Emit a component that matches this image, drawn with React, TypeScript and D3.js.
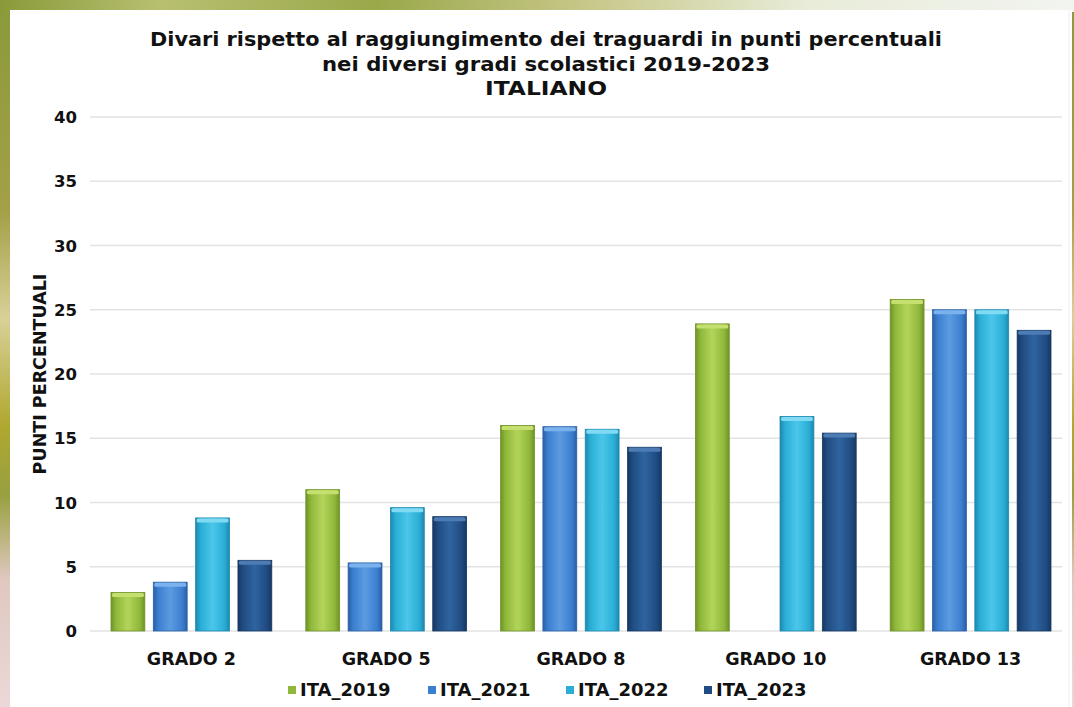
import React from "react";
import * as d3 from "d3";

const categories = ["GRADO 2", "GRADO 5", "GRADO 8", "GRADO 10", "GRADO 13"];
const seriesNames = ["ITA_2019", "ITA_2021", "ITA_2022", "ITA_2023"];
const ita2019 = [3.0, 11.0, 16.0, 23.9, 25.8];
const ita2021 = [3.8, 5.3, 15.9, null, 25.0];
const ita2022 = [8.8, 9.6, 15.7, 16.7, 25.0];
const ita2023 = [5.5, 8.9, 14.3, 15.4, 23.4];
const yTicks = [0, 5, 10, 15, 20, 25, 30, 35, 40];
const titleLines = [
  "Divari rispetto al raggiungimento dei traguardi in punti percentuali",
  "nei diversi gradi scolastici 2019-2023",
  "ITALIANO",
];

const seriesValues = [ita2019, ita2021, ita2022, ita2023];
const palette = [
  { base: "#8fb83a", light: "#b3d45a", dark: "#6f9228", cap: "#c6e070" },
  { base: "#3c7fd0", light: "#5b9be0", dark: "#2a5fa6", cap: "#7bb2ee" },
  { base: "#2aaed6", light: "#4cc6ea", dark: "#1d88ae", cap: "#7fdaf3" },
  { base: "#204c82", light: "#2f64a0", dark: "#163863", cap: "#4d7cb5" },
];

const W = 1074;
const H = 707;
const plotLeft = 94;
const plotRight = 1068;
const plotTop = 117;
const plotBottom = 631;

export default function App() {
  const x0 = d3.scaleBand<string>().domain(categories).range([plotLeft, plotRight]).paddingInner(0).paddingOuter(0);
  const x1 = d3
    .scaleBand<string>()
    .domain(seriesNames)
    .range([17, x0.bandwidth() - 17])
    .paddingInner(0.2)
    .paddingOuter(0);
  const y = d3.scaleLinear().domain([0, 40]).range([plotBottom, plotTop]);
  const font = "'DejaVu Sans', Verdana, sans-serif";
  const legendX = [288, 428, 566, 704];
  const titleWidths = [792, 448, 122];

  return (
    <svg width={W} height={H} style={{ position: "absolute", left: 0, top: 0, display: "block" }}>
      <defs>
        <linearGradient id="bgTop" x1="0" x2="1" y1="0" y2="0">
          <stop offset="0" stopColor="#8a9a3a" />
          <stop offset="0.15" stopColor="#b8c070" />
          <stop offset="0.35" stopColor="#9aa84a" />
          <stop offset="0.55" stopColor="#c8c88a" />
          <stop offset="0.75" stopColor="#e8ecd8" />
          <stop offset="1" stopColor="#f2f4f0" />
        </linearGradient>
        <linearGradient id="bgLeft" x1="0" x2="0" y1="0" y2="1">
          <stop offset="0" stopColor="#8a9a3a" />
          <stop offset="0.3" stopColor="#a4a048" />
          <stop offset="0.45" stopColor="#d8d098" />
          <stop offset="0.6" stopColor="#b0a830" />
          <stop offset="0.7" stopColor="#98a040" />
          <stop offset="0.82" stopColor="#e0c8c0" />
          <stop offset="1" stopColor="#ecd8d8" />
        </linearGradient>
        {palette.map((p, i) => (
          <linearGradient key={i} id={`bar${i}`} x1="0" x2="1" y1="0" y2="0">
            <stop offset="0" stopColor={p.dark} />
            <stop offset="0.15" stopColor={p.base} />
            <stop offset="0.5" stopColor={p.light} />
            <stop offset="0.85" stopColor={p.base} />
            <stop offset="1" stopColor={p.dark} />
          </linearGradient>
        ))}
      </defs>
      <rect x={0} y={0} width={W} height={H} fill="url(#bgLeft)" />
      <rect x={0} y={0} width={W} height={12} fill="url(#bgTop)" />
      <rect x={10} y={10} width={W - 12} height={H - 10} fill="#ffffff" />
      <line x1={1069} x2={1069} y1={10} y2={H} stroke="#eeeeee" />

      {titleLines.map((t, i) => (
        <text
          key={i}
          x={546}
          y={46 + i * 24.5}
          textAnchor="middle"
          fontFamily={font}
          fontWeight="bold"
          fontSize={20}
          fill="#111"
          textLength={titleWidths[i]}
          lengthAdjust="spacingAndGlyphs"
        >
          {t}
        </text>
      ))}

      {yTicks.map((t) => (
        <g key={t}>
          <line x1={plotLeft - 4} x2={plotRight - 6} y1={y(t)} y2={y(t)} stroke="#e3e3e3" strokeWidth={1.5} />
          <text x={77} y={y(t) + 6} textAnchor="end" fontFamily={font} fontWeight="bold" fontSize={16.5} fill="#111">
            {t}
          </text>
        </g>
      ))}

      <text
        transform={`translate(46,${(plotTop + plotBottom) / 2}) rotate(-90)`}
        textAnchor="middle"
        fontFamily={font}
        fontWeight="bold"
        fontSize={17.5}
        fill="#111"
      >
        PUNTI PERCENTUALI
      </text>

      {categories.map((c, ci) => (
        <g key={c} transform={`translate(${x0(c)},0)`}>
          {seriesNames.map((s, si) => {
            const v = seriesValues[si][ci];
            if (v == null) return null;
            const bx = x1(s)!;
            const bw = x1.bandwidth();
            const top = y(v);
            const h = plotBottom - top;
            const p = palette[si];
            return (
              <g key={s}>
                <rect x={bx} y={top} width={bw} height={h} fill={`url(#bar${si})`} stroke={p.dark} strokeWidth={0.8} />
                <rect x={bx + 1} y={top + 0.5} width={bw - 2} height={4} rx={1.5} fill={p.cap} />
              </g>
            );
          })}
          <text
            x={x0.bandwidth() / 2}
            y={665}
            textAnchor="middle"
            fontFamily={font}
            fontWeight="bold"
            fontSize={17.5}
            fill="#111"
          >
            {c}
          </text>
        </g>
      ))}

      {seriesNames.map((s, si) => (
        <g key={s}>
          <rect x={legendX[si]} y={686} width={8} height={8} fill={palette[si].base} />
          <text x={legendX[si] + 12} y={696} fontFamily={font} fontWeight="bold" fontSize={18} fill="#111">
            {s}
          </text>
        </g>
      ))}
    </svg>
  );
}
